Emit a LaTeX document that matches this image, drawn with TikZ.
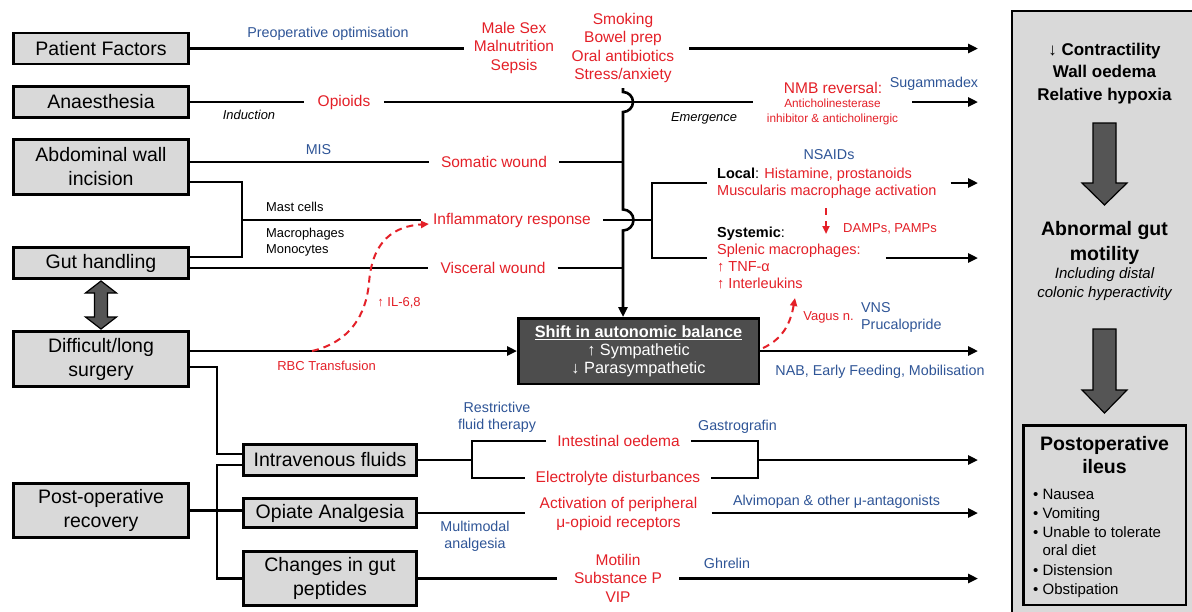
\documentclass[tikz,border=0pt]{standalone}
\usepackage{fontspec}
\setmainfont{Liberation Sans}
\usetikzlibrary{arrows.meta,calc}
\definecolor{rd}{RGB}{228,32,40}
\definecolor{bl}{RGB}{47,85,151}
\definecolor{boxg}{RGB}{217,217,217}
\definecolor{dkg}{RGB}{77,77,77}
\definecolor{fatg}{RGB}{85,85,85}
\newcommand{\fsz}[2]{\fontsize{#1}{#2}\selectfont}
\begin{document}
\begin{tikzpicture}[x=1pt,y=-1pt,
  ln/.style={line width=2.6pt},
  arr/.style={line width=2.6pt,-{Triangle[length=10pt,width=9pt]}},
  lbox/.style={draw,line width=2.8pt,fill=boxg,align=center,font=\fsz{19.5}{24},inner sep=0pt,minimum width=175pt},
  redl/.style={text=rd,font=\fsz{15.5}{18.5},align=center,inner xsep=12pt,inner ysep=1pt},
  redsm/.style={text=rd,font=\fsz{13}{15},align=center,inner sep=1pt},
  bluel/.style={text=bl,font=\fsz{14.3}{17},align=center,inner sep=1pt},
  kl/.style={font=\fsz{12.9}{16},align=left,inner sep=1pt},
  reddash/.style={draw=rd,line width=2pt,dash pattern=on 7pt off 5pt,-{Triangle[length=8pt,width=7pt]}},
  fat/.style={fill=fatg,draw=black,line width=1.2pt,line join=miter}]
\useasboundingbox (0,0) rectangle (1192,611);
\fill[white] (0,0) rectangle (1192,611);
\coordinate (R) at (978,0);

% ---------- right panel ----------
\draw[fill=boxg,line width=2pt] (1012,11) rectangle (1200,620);
\node[font=\bfseries\fsz{17}{22.5},align=center] (t1) at (1104.5,73.5) {↓ Contractility\\Wall oedema\\Relative hypoxia};
\draw[fat] (1093,123) -- (1116,123) -- (1116,183) -- (1127,183) -- (1104.5,205) -- (1082,183) -- (1093,183) -- cycle;
\node[font=\bfseries\fsz{19.5}{25},align=center] (t2) at (1104.5,243) {Abnormal gut\\motility};
\node[font=\itshape\fsz{15}{19},align=center] (t3) at (1104.5,284) {Including distal\\colonic hyperactivity};
\draw[fat] (1093,329) -- (1116,329) -- (1116,390) -- (1127,390) -- (1104.5,413) -- (1082,390) -- (1093,390) -- cycle;
\node[draw,line width=2.5pt,fill=boxg,minimum width=162.5pt,minimum height=179.5pt,inner sep=0pt] (poi) at (1104.5,515) {};
\node[font=\bfseries\fsz{19.5}{23.5},align=center] (pt) at (1104.5,455) {Postoperative\\ileus};
\node[font=\fsz{15}{18.8},align=left,anchor=north west,inner sep=0pt] (bul) at (1033,489) {• Nausea\\• Vomiting\\• Unable to tolerate\\\phantom{•\ }oral diet\\[1pt]• Distension\\• Obstipation};

% ---------- left boxes ----------
\node[lbox,minimum height=31pt] (pf) at (101,48.5) {Patient Factors};
\node[lbox,minimum height=31pt] (an) at (101,102) {Anaesthesia};
\node[lbox,minimum height=55pt] (ab) at (101,167) {Abdominal wall\\incision};
\node[lbox,minimum height=31pt] (gh) at (101,263) {Gut handling};
\node[lbox,minimum height=55pt] (dl) at (101,359) {Difficult/long\\surgery};
\node[lbox,minimum height=54pt] (pr) at (101,510.5) {Post-operative\\recovery};
\node[lbox,minimum width=173pt,minimum height=31pt] (iv) at (330,460) {Intravenous fluids};
\node[lbox,minimum width=173pt,minimum height=29.5pt] (oa) at (330,513) {Opiate Analgesia};
\node[lbox,minimum width=173pt,minimum height=54pt] (cg) at (330,578.5) {Changes in gut\\peptides};

% double block arrow between gut handling and difficult surgery
\draw[fat] (101,281) -- (116.5,293) -- (107.5,293) -- (107.5,317) -- (116.5,317) -- (101,329) -- (85.5,317) -- (94.5,317) -- (94.5,293) -- (85.5,293) -- cycle;

% ---------- shift box ----------
\node[draw,line width=2.5pt,fill=dkg,text=white,minimum width=240.5pt,minimum height=65.5pt,inner sep=0pt,align=center,font=\fsz{16.3}{18}] (shift) at (638.5,351) {\underline{\textbf{Shift in autonomic balance}}\\↑ Sympathetic\\↓ Parasympathetic};

% ---------- red labels ----------
\node[redl,inner xsep=13.5pt] (opi) at (344,102) {Opioids};
\node[redl,inner xsep=10pt] (ms) at (514,47.5) {Male Sex\\Malnutrition\\Sepsis};
\node[redl,inner xsep=15pt,inner ysep=5pt] (sm) at (623,48) {Smoking\\Bowel prep\\Oral antibiotics\\Stress/anxiety};
\node[redl] (som) at (494,162) {Somatic wound};
\node[redl] (inf) at (512,220) {Inflammatory response};
\node[redl] (vis) at (493,268) {Visceral wound};
\node[redl,inner xsep=2pt] (nmb) at (833,88) {NMB reversal:};
\node[text=rd,font=\fsz{11.8}{15},align=center,inner xsep=14pt,inner ysep=1pt] (ant) at (832.5,111.5) {Anticholinesterase\\inhibitor \& anticholinergic};
\node[anchor=west,font=\fsz{14.5}{17},align=left,inner xsep=10pt,inner ysep=1pt] (loc) at (707,183) {\textbf{Local}: \textcolor{rd}{Histamine, prostanoids}\\\textcolor{rd}{Muscularis macrophage activation}};
\node[anchor=west,font=\fsz{14.5}{16.8},align=left,inner xsep=10pt,inner ysep=1pt] (sys) at (707,258) {\textbf{Systemic}:\\\textcolor{rd}{Splenic macrophages:}\\\textcolor{rd}{↑ TNF-α}\\\textcolor{rd}{↑ Interleukins}};
\node[redsm,anchor=west] (damps) at (842,229) {DAMPs, PAMPs};
\node[redsm] (vagus) at (828.5,317) {Vagus n.};
\node[redsm] (rbc) at (326.5,366) {RBC Transfusion};
\node[redsm] (il) at (399,303) {↑ IL-6,8};
\node[redl,inner xsep=11pt] (io) at (618.5,441) {Intestinal oedema};
\node[redl,inner xsep=11pt] (ed) at (618,478) {Electrolyte disturbances};
\node[redl,inner xsep=14pt] (act) at (618.5,514) {Activation of peripheral\\μ-opioid receptors};
\node[redl,inner xsep=17pt] (mot) at (618,578) {Motilin\\Substance P\\VIP};

% ---------- blue labels ----------
\node[bluel] (pre) at (328,34) {Preoperative optimisation};
\node[bluel] (mis) at (318.5,150) {MIS};
\node[bluel] (sug) at (934,84) {Sugammadex};
\node[bluel] (nsa) at (829,155) {NSAIDs};
\node[bluel,anchor=west,align=left] (vns) at (860,317.5) {VNS\\Prucalopride};
\node[bluel] (nab) at (880,372) {NAB, Early Feeding, Mobilisation};
\node[bluel] (rft) at (497,417.5) {Restrictive\\fluid therapy};
\node[bluel] (gas) at (737.5,427) {Gastrografin};
\node[bluel] (alv) at (836.5,502) {Alvimopan \& other μ-antagonists};
\node[bluel] (mma) at (475,536.5) {Multimodal\\analgesia};
\node[bluel] (ghr) at (727,563) {Ghrelin};

% ---------- black small labels ----------
\node[kl,font=\itshape\fsz{12.9}{16}] (ind) at (249,115) {Induction};
\node[kl,font=\itshape\fsz{12.9}{16}] (emg) at (704,118) {Emergence};
\node[kl,anchor=west] (mast) at (265,206.5) {Mast cells};
\node[kl,anchor=west] (macro) at (265,242) {Macrophages\\Monocytes};

% ---------- connectors ----------
% patient factors
\draw[ln] (pf.east) -- (pf.east -| ms.west);
\draw[arr] (sm.east |- pf.east) -- (R |- pf.east);
% anaesthesia
\draw[ln] (an.east) -- (opi.west);
\draw[ln] (opi.east) -- (opi.east -| ant.west);
\draw[arr] (ant.east |- an.east) -- (R |- an.east);
% vertical collector into shift box, jumping the crossings
\draw[arr] (sm.south) -- ($(sm.south |- an.east)+(0,-10)$)
  arc[start angle=90,end angle=-90,radius=10pt]
  -- ($(sm.south |- inf.east)+(0,-10.5)$)
  arc[start angle=90,end angle=-90,radius=10.5pt]
  -- (shift.north -| sm.south);
% abdominal wall / gut handling
\coordinate (bk) at (242,220);
\draw[ln] (ab.east |- som.west) -- (som.west);
\draw[ln] (som.east) -- (som.east -| sm.south);
\draw[ln] ($(ab.east)+(0,15)$) -| (bk) |- ($(gh.east)+(0,-6)$);
\draw[ln] (bk) -- (inf.west);
\draw[ln] (gh.east |- vis.west) -- (vis.west);
\draw[ln] (vis.east) -- (vis.east -| sm.south);
% inflammatory branch
\coordinate (br) at (652,220);
\draw[ln] (inf.east) -- (br);
\draw[ln] (loc.west) -| (br) |- (sys.west);
\draw[arr,shorten <=4pt] (loc.east) -- (R |- loc.east);
\draw[arr,shorten <=15pt] (sys.east) -- (R |- sys.east);
\coordinate (dmA) at (826,208);
\coordinate (dmB) at (826,234);
\draw[reddash,dash pattern=on 7pt off 6pt] (dmA) -- (dmB);
% difficult surgery
\draw[arr] (dl.east |- shift.west) -- (shift.west);
\draw[arr] (shift.east) -- (R |- shift.east);
\coordinate (rbcA) at (312,351);
\draw[reddash] (rbcA) .. controls (350,342) and (366,315) .. (369,283) .. controls (372,240) and (395,226) .. ($(inf.west)+(8,4)$);
\coordinate (vgA) at (763,348);
\coordinate (vgB) at (795,298);
\draw[reddash] (vgA) .. controls (785,338) and (791,320) .. (vgB);
\coordinate (dlx) at (217,367);
\draw[ln] (dl.east |- dlx) -- (dlx) |- ($(iv.west)+(0,-6)$);
% post-operative recovery
\coordinate (pv) at (217,511);
\draw[ln] (pr.east) -- (oa.west |- pr.east);
\draw[ln] ($(iv.west)+(0,5)$) -| (pv) |- (cg.west);
% intravenous fluids
\coordinate (ivl) at (472,460);
\coordinate (ivr) at (758,460);
\draw[ln] (iv.east) -- (ivl);
\draw[ln] (io.west) -| (ivl) |- (ed.west);
\draw[ln] (io.east) -| (ivr) |- (ed.east);
\draw[arr] (ivr) -- (R |- ivr);
% opiate analgesia
\draw[ln] (oa.east) -- (oa.east -| act.west);
\draw[arr] (act.east |- oa.east) -- (R |- oa.east);
% gut peptides
\draw[ln] (cg.east) -- (cg.east -| mot.west);
\draw[arr] (mot.east |- cg.east) -- (R |- cg.east);
\end{tikzpicture}
\end{document}
